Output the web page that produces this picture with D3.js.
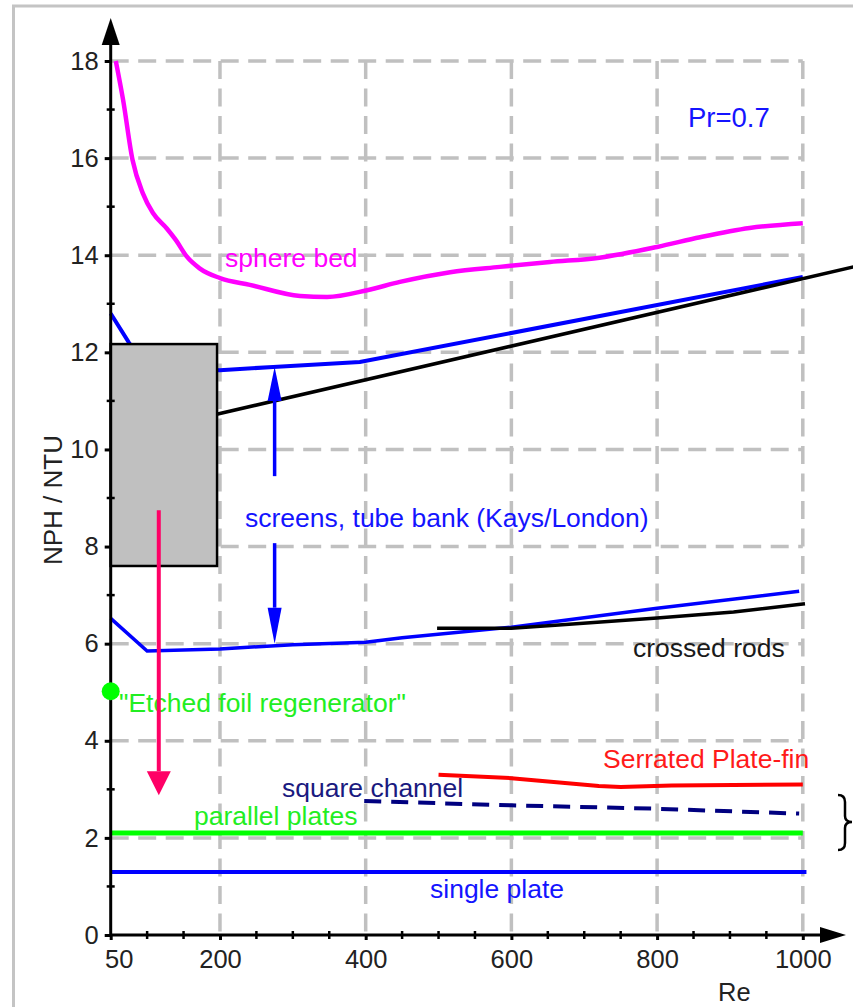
<!DOCTYPE html>
<html>
<head>
<meta charset="utf-8">
<script src="https://cdn.jsdelivr.net/npm/d3@7"></script>
<style>
body { margin: 0; background: #fff; }
svg text { font-family: "Liberation Sans", Arial, sans-serif; }
</style>
</head>
<body>
<script>
var width = 853;
var height = 1007;

// curves: Re and NPH/NTU
var sphereRe  = [57, 67, 80, 94, 108, 127, 140, 154, 172, 200, 241, 310, 347, 402, 447, 516, 584, 653, 721, 800, 859, 927, 1000];
var sphereNpt = [18.0, 17.2, 15.96, 15.28, 14.87, 14.55, 14.3, 13.98, 13.73, 13.53, 13.39, 13.16, 13.14, 13.28, 13.45, 13.65, 13.76, 13.86, 13.95, 14.17, 14.37, 14.56, 14.66];

var screensUpRe  = [50, 75, 100, 200, 273, 392, 1000];
var screensUpNpt = [12.8, 12.2, 11.7, 11.63, 11.7, 11.8, 13.55];

var screensLoRe  = [50, 100, 200, 300, 400, 450, 600, 800, 995];
var screensLoNpt = [6.52, 5.85, 5.89, 5.98, 6.03, 6.12, 6.34, 6.73, 7.08];

var tubeRe  = [191, 1070];
var tubeNpt = [10.71, 13.76];

var crossedRe  = [498, 600, 660, 800, 905, 1003];
var crossedNpt = [6.32, 6.32, 6.38, 6.53, 6.65, 6.82];

var serratedRe  = [500, 600, 720, 750, 820, 1000];
var serratedNpt = [3.3, 3.23, 3.07, 3.05, 3.08, 3.1];

var squareRe  = [398, 600, 800, 995];
var squareNpt = [2.76, 2.67, 2.6, 2.5];

var parallelRe  = [50, 1000];
var parallelNpt = [2.1, 2.1];

var singleRe  = [50, 1005];
var singleNpt = [1.3, 1.3];

var etchedPoint = [50, 5.02];

// grey box of regenerator range
var boxRe  = [50, 196];
var boxNpt = [7.6, 12.17];

// arrows: Re position, from, to
var screensArrowRe = 275;
var screensArrowUp = [9.45, 11.7];
var screensArrowDown = [8.07, 6.0];
var regenArrowRe = 116;
var regenArrow = [8.75, 2.88];

var xTicks = [50, 200, 400, 600, 800, 1000];
var xMinor = d3.range(100, 1000, 50).filter(function(d) { return d % 200 != 0; });
var yTicks = d3.range(0, 19, 2);
var yMinor = d3.range(1, 18, 2);
var xGrid = [200, 400, 600, 800, 1000];
var yGrid = d3.range(2, 19, 2);

var x = d3.scaleLinear().domain([50, 1000]).range([110.7, 802.8]);
var y = d3.scaleLinear().domain([0, 18]).range([935, 61]);

var svg = d3.select('body')
  .append('svg')
  .attr('width', width)
  .attr('height', height);

// light grey frame
svg.append('rect')
  .attr('x', 13.5).attr('y', 6)
  .attr('width', 900).attr('height', 1100)
  .attr('fill', 'none')
  .attr('stroke', '#c4c4c4')
  .attr('stroke-width', 3);

// dashed grid
svg.append('g').selectAll('line')
  .data(yGrid)
  .enter().append('line')
  .attr('x1', x(50)).attr('x2', x(1000))
  .attr('y1', y).attr('y2', y)
  .attr('stroke', '#c0c0c0')
  .attr('stroke-width', 3.5)
  .attr('stroke-dasharray', '18,9.5');

svg.append('g').selectAll('line')
  .data(xGrid)
  .enter().append('line')
  .attr('x1', x).attr('x2', x)
  .attr('y1', y(18)).attr('y2', y(0))
  .attr('stroke', '#c0c0c0')
  .attr('stroke-width', 3.5)
  .attr('stroke-dasharray', '18,9.5');

function pairs(a, b) { return a.map(function(d, i) { return [d, b[i]]; }); }

var line = d3.line()
  .x(function(d) { return x(d[0]); })
  .y(function(d) { return y(d[1]); });

var smooth = d3.line()
  .x(function(d) { return x(d[0]); })
  .y(function(d) { return y(d[1]); })
  .curve(d3.curveMonotoneX);

function drawCurve(gen, data, color, w, dash) {
  var p = svg.append('path')
    .attr('d', gen(data))
    .attr('fill', 'none')
    .attr('stroke', color)
    .attr('stroke-width', w);
  if (dash) p.attr('stroke-dasharray', dash);
  return p;
}

drawCurve(smooth, pairs(sphereRe, sphereNpt), '#ff00ff', 4.5);
drawCurve(line, pairs(screensUpRe, screensUpNpt), '#0000ff', 4);
drawCurve(line, pairs(tubeRe, tubeNpt), '#000', 3.5);
drawCurve(line, pairs(screensLoRe, screensLoNpt), '#0000ff', 3.5);
drawCurve(line, pairs(crossedRe, crossedNpt), '#000', 3.5);
drawCurve(line, pairs(serratedRe, serratedNpt), '#ff0000', 4);
drawCurve(line, pairs(squareRe, squareNpt), '#000080', 4, '17,10');
drawCurve(line, pairs(parallelRe, parallelNpt), '#00ff00', 5);
drawCurve(line, pairs(singleRe, singleNpt), '#0000ff', 4);

// grey box over the curves
svg.append('rect')
  .attr('x', x(boxRe[0])).attr('y', y(boxNpt[1]))
  .attr('width', x(boxRe[1]) - x(boxRe[0]))
  .attr('height', y(boxNpt[0]) - y(boxNpt[1]))
  .attr('fill', '#c0c0c0')
  .attr('stroke', '#000')
  .attr('stroke-width', 2.5);

// vertical arrow with a filled head at the "to" end
function arrow(re, from, to, color, shaftW, headW, headL) {
  var px = x(re), y0 = y(from), y1 = y(to);
  var dir = y1 > y0 ? 1 : -1;
  var yb = y1 - dir * headL;
  svg.append('line')
    .attr('x1', px).attr('x2', px)
    .attr('y1', y0).attr('y2', yb)
    .attr('stroke', color)
    .attr('stroke-width', shaftW);
  svg.append('path')
    .attr('d', 'M' + (px - headW / 2) + ',' + yb + 'L' + (px + headW / 2) + ',' + yb + 'L' + px + ',' + y1 + 'Z')
    .attr('fill', color);
}

arrow(screensArrowRe, screensArrowUp[0], screensArrowUp[1], '#0000ff', 3.5, 14, 34);
arrow(screensArrowRe, screensArrowDown[0], screensArrowDown[1], '#0000ff', 3.5, 14, 36);

function label(txt, px, py, color, size) {
  return svg.append('text')
    .attr('x', px).attr('y', py)
    .attr('fill', color)
    .attr('font-size', size || 26.5)
    .text(txt);
}

label('Pr=0.7', 688, 127, '#1414ff', 27.5);
label('sphere bed', 225, 267, '#ff00ff');
label('screens, tube bank (Kays/London)', 245, 527, '#1414ff');
label('crossed rods', 633, 657, '#1a1a1a');
label('"Etched foil regenerator"', 119, 712, '#22ee22');
label('Serrated Plate-fin', 603, 768, '#ff1a1a');
label('square channel', 282, 797, '#1a1a80');
label('parallel plates', 194, 825, '#22ee22');
label('single plate', 430, 898, '#1414ff');

arrow(regenArrowRe, regenArrow[0], regenArrow[1], '#ff0066', 4, 24, 24);

// brace at right edge
svg.append('path')
  .attr('d', 'M838,795 Q845,795 845,802 L845,816 Q845,822 852,822 Q845,822 845,828 L845,843 Q845,850 838,850')
  .attr('fill', 'none')
  .attr('stroke', '#000')
  .attr('stroke-width', 2.5);

// axes
var yAxis = svg.append('g')
  .attr('transform', 'translate(' + x(50) + ',0)')
  .call(d3.axisLeft(y).tickValues(yTicks).tickSize(6).tickPadding(6));
yAxis.select('.domain').remove();
yAxis.selectAll('line').attr('stroke', '#000').attr('stroke-width', 3);
yAxis.selectAll('text').attr('font-size', 25.5).attr('fill', '#222')
  .attr('font-family', '"Liberation Sans", Arial, sans-serif');

var xAxis = svg.append('g')
  .attr('transform', 'translate(0,' + y(0) + ')')
  .call(d3.axisBottom(x).tickValues(xTicks).tickSize(5).tickPadding(10).tickFormat(d3.format('d')));
xAxis.select('.domain').remove();
xAxis.selectAll('line').attr('stroke', '#000').attr('stroke-width', 3);
xAxis.selectAll('text').attr('font-size', 25.5).attr('fill', '#222')
  .attr('font-family', '"Liberation Sans", Arial, sans-serif')
  .attr('dx', function(d) { return d == 50 ? 8 : 0; });

svg.append('g').selectAll('line')
  .data(yMinor)
  .enter().append('line')
  .attr('x1', x(50) - 4).attr('x2', x(50) + 4)
  .attr('y1', y).attr('y2', y)
  .attr('stroke', '#000').attr('stroke-width', 2.5);

svg.append('g').selectAll('line')
  .data(xMinor)
  .enter().append('line')
  .attr('x1', x).attr('x2', x)
  .attr('y1', y(0) - 4).attr('y2', y(0) + 4)
  .attr('stroke', '#000').attr('stroke-width', 2.5);

// axis lines with arrow heads
svg.append('line')
  .attr('x1', x(50)).attr('x2', x(50))
  .attr('y1', y(0)).attr('y2', 40)
  .attr('stroke', '#000').attr('stroke-width', 3);
svg.append('path')
  .attr('d', 'M' + (x(50) - 9) + ',45L' + (x(50) + 9) + ',45L' + x(50) + ',18Z')
  .attr('fill', '#000');

svg.append('line')
  .attr('x1', x(50)).attr('x2', 825)
  .attr('y1', y(0)).attr('y2', y(0))
  .attr('stroke', '#000').attr('stroke-width', 3);
svg.append('path')
  .attr('d', 'M820,' + (y(0) - 8) + 'L820,' + (y(0) + 8) + 'L846,' + y(0) + 'Z')
  .attr('fill', '#000');

// etched foil point sits on top of the axis
svg.append('circle')
  .attr('cx', x(etchedPoint[0])).attr('cy', y(etchedPoint[1]))
  .attr('r', 9)
  .attr('fill', '#00ff00');

// axis titles
label('Re', 718, 1001, '#222', 25.5);
svg.append('text')
  .attr('transform', 'translate(62,500) rotate(-90)')
  .attr('text-anchor', 'middle')
  .attr('font-size', 26)
  .attr('fill', '#222')
  .text('NPH / NTU');
</script>
</body>
</html>
